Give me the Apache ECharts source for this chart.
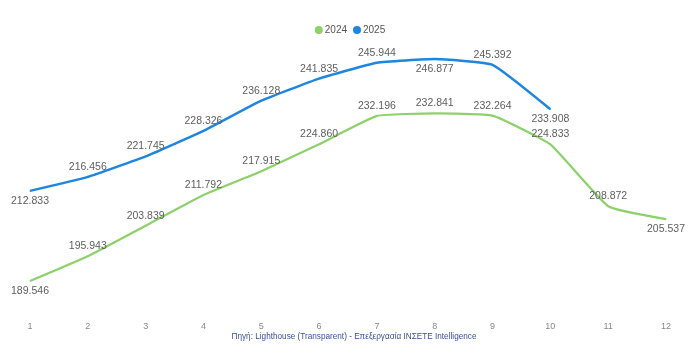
<!DOCTYPE html>
<html>
<head>
<meta charset="utf-8">
<script src="https://cdn.jsdelivr.net/npm/echarts@6/dist/echarts.min.js"></script>
<style>html,body{margin:0;padding:0;background:#fff;}#c{width:700px;height:359px;}</style>
</head>
<body>
<div id="c"></div>
<script>
var months = ['1','2','3','4','5','6','7','8','9','10','11','12'];
var values2024 = [189.546, 195.943, 203.839, 211.792, 217.915, 224.860, 232.196, 232.841, 232.264, 224.833, 208.872, 205.537];
var values2025 = [212.833, 216.456, 221.745, 228.326, 236.128, 241.835, 245.944, 246.877, 245.392, 233.908];
var labelPos2024 = ['bottom','top','top','top','top','top','top','top','top','top','top','bottom'];
var labelPos2025 = ['bottom','top','top','top','top','top','top','bottom','top','bottom'];
var sourceText = 'Πηγή: Lighthouse (Transparent) - Επεξεργασία ΙΝΣΕΤΕ Intelligence';

function build(vals, pos) {
  return vals.map(function (v, i) {
    return { value: v, label: { show: true, position: pos[i] } };
  });
}
var chart = echarts.init(document.getElementById('c'), null, { renderer: 'canvas' });
var labelStyle = {
  show: true, color: '#5e5e5e', fontSize: 10.5, fontFamily: 'Liberation Sans, Arial, sans-serif', distance: 4,
  formatter: function (p) { return p.value.toFixed(3); }
};
chart.setOption({
  animation: false,
  backgroundColor: '#fff',
  title: {
    text: sourceText, left: 349, textAlign: 'center', top: 328,
    textStyle: { color: '#3b4f96', fontSize: 8.2, fontWeight: 'normal', fontFamily: 'Liberation Sans, Arial, sans-serif' }
  },
  legend: {
    top: 20, left: 'center', itemWidth: 8, itemHeight: 8, itemGap: 6,
    icon: 'circle',
    textStyle: { color: '#555', fontSize: 10, fontFamily: 'Liberation Sans, Arial, sans-serif', padding: [0, 0, 0, -3] },
    data: ['2024', '2025']
  },
  grid: { left: 30, right: 34, top: 47, bottom: 41 },
  xAxis: {
    type: 'category', data: months, boundaryGap: false,
    axisLine: { show: false }, axisTick: { show: false },
    axisLabel: { color: '#888', fontSize: 9, margin: 4, fontFamily: 'Liberation Sans, Arial, sans-serif' }
  },
  yAxis: {
    type: 'value', min: 180, max: 250, show: false, splitLine: { show: false }
  },
  series: [
    {
      name: '2024', type: 'line', data: build(values2024, labelPos2024),
      color: '#8dd16b', smooth: 0.12, showSymbol: true, symbol: 'circle', symbolSize: 1,
      itemStyle: { color: '#8dd16b', borderWidth: 0 },
      lineStyle: { width: 2.2, color: '#8dd16b' },
      label: labelStyle
    },
    {
      name: '2025', type: 'line', data: build(values2025, labelPos2025),
      color: '#1e86de', smooth: 0.12, showSymbol: true, symbol: 'circle', symbolSize: 1,
      itemStyle: { color: '#1e86de', borderWidth: 0 },
      lineStyle: { width: 2.5, color: '#1e86de' },
      label: labelStyle
    }
  ]
});
</script>
</body>
</html>
